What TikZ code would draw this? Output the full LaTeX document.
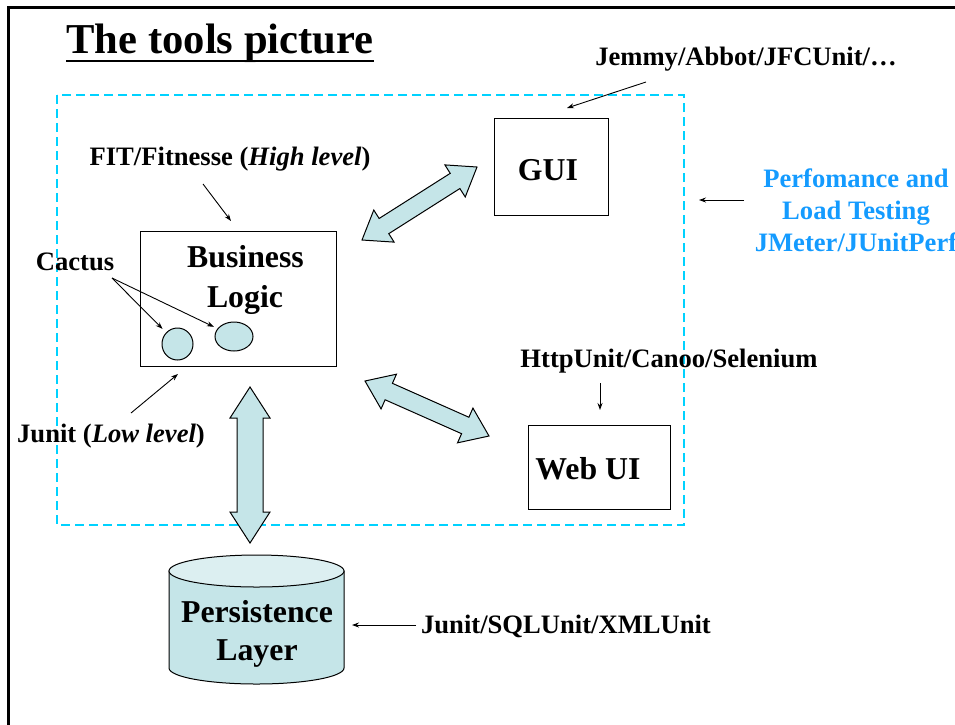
\documentclass[tikz,border=0pt]{standalone}
\usepackage{fontspec}
\setmainfont{Liberation Serif}
\usetikzlibrary{calc,arrows.meta,shapes.geometric}
\definecolor{dashcyan}{RGB}{0,210,255}
\definecolor{perfblue}{RGB}{20,155,255}
\definecolor{fillcyan}{RGB}{197,229,232}
\definecolor{topcyan}{RGB}{220,239,241}
\tikzset{
 lbl/.style={font=\fontsize{26.6}{32}\selectfont\bfseries, inner sep=0pt, anchor=base},
 big/.style={font=\fontsize{31.8}{38}\selectfont\bfseries, inner sep=0pt, anchor=base},
 box/.style={draw, line width=1pt, inner sep=0pt},
 ptr/.style={-{Stealth[length=7pt,width=5pt]}, line width=0.9pt},
 blk/.style={draw, line width=1pt, fill=fillcyan, line join=miter},
 blob/.style={draw, ellipse, line width=1pt, fill=fillcyan, inner sep=0pt},
}
\newcommand\dblarrow[5]{%
 \draw[blk] (#1) -- ($(#1)!#3!(#2)!#4!90:(#2)$) -- ($(#1)!#3!(#2)!#5!90:(#2)$)
  -- ($(#2)!#3!(#1)!#5!-90:(#1)$) -- ($(#2)!#3!(#1)!#4!-90:(#1)$) -- (#2)
  -- ($(#2)!#3!(#1)!#4!90:(#1)$) -- ($(#2)!#3!(#1)!#5!90:(#1)$)
  -- ($(#1)!#3!(#2)!#5!-90:(#2)$) -- ($(#1)!#3!(#2)!#4!-90:(#2)$) -- cycle;}
\begin{document}
\begin{tikzpicture}[x=1pt,y=-1pt]
\useasboundingbox (0,0) rectangle (955,724);
% frame
\draw[line width=3pt] (8,730) -- (8,7) -- (962,7);
% dashed region
\draw[draw=dashcyan, line width=1.5pt, dash pattern=on 9pt off 5pt] (57,95) rectangle (684,525);
% title
\node[lbl, font=\fontsize{42.6}{50}\selectfont\bfseries] (title) at (220,53) {The tools picture};
\draw[line width=2.5pt] (title.west |- 0,61) -- (title.east |- 0,61);
% boxes
\node[box, minimum width=196pt, minimum height=135pt] (blbox) at (238,298.5) {};
\node[big] (bl1) at (245.5,267) {Business};
\node[big] (bl2) at (245,307) {Logic};
\node[box, minimum width=114pt, minimum height=97pt] (gui) at (551,166.5) {};
\node[big] (guit) at (548,180) {GUI};
\node[box, minimum width=142pt, minimum height=84pt] (web) at (599,467) {};
\node[big] (webt) at (588,479) {Web UI};
% blobs
\node[blob, minimum width=31pt, minimum height=32pt] (c1) at (177.5,344) {};
\node[blob, minimum width=38pt, minimum height=29pt] (c2) at (234,336.5) {};
% cylinder
\draw[line width=1pt, fill=fillcyan] (169,571) -- (169,668) arc[start angle=180, end angle=360, x radius=87.5pt, y radius=16pt] -- (344,571) -- cycle;
\draw[line width=1pt, fill=topcyan] (256.5,571) ellipse [x radius=87.5pt, y radius=16pt];
\node[big] (pl1) at (257,622) {Persistence};
\node[big] (pl2) at (257,660) {Layer};
% labels
\node[lbl] (jemmy) at (746,65) {Jemmy/Abbot/JFCUnit/…};
\node[lbl] (fit) at (230,165) {FIT/Fitnesse (\textit{High level})};
\node[lbl] (cactus) at (75,270) {Cactus};
\node[lbl] (junit) at (111,442) {Junit (\textit{Low level})};
\node[lbl] (http) at (669,367) {HttpUnit/Canoo/Selenium};
\node[lbl] (sql) at (566,633) {Junit/SQLUnit/XMLUnit};
\node[lbl, text=perfblue] (perf1) at (856,187) {Perfomance and};
\node[lbl, text=perfblue] (perf2) at (856,219) {Load Testing};
\node[lbl, text=perfblue] (perf3) at (856,251) {JMeter/JUnitPerf};
% pointer coordinates
\coordinate (jemA) at (646,82);  \coordinate (jemB) at (567,108);
\coordinate (fitA) at (203,184); \coordinate (fitB) at (231,221);
\coordinate (jnA) at (131,413);  \coordinate (jnB) at (178,374);
\coordinate (htA) at (600,383);  \coordinate (htB) at (600,410);
\coordinate (pfA) at (744,200);  \coordinate (pfB) at (699,200);
\coordinate (sqA) at (416,625);  \coordinate (sqB) at (352,625);
\coordinate (caA) at (112,278);
\draw[ptr] (jemA) -- (jemB);
\draw[ptr] (fitA) -- (fitB);
\draw[ptr] (jnA) -- (jnB);
\draw[ptr] (htA) -- (htB);
\draw[ptr] (pfA) -- (pfB);
\draw[ptr] (sqA) -- (sqB);
\draw[ptr, shorten >=5pt] (caA) -- (c1);
\draw[ptr, shorten >=4pt] (caA) -- (c2);
% block double arrows
\coordinate (a1s) at (362,240); \coordinate (a1e) at (477,167);
\coordinate (a2s) at (365,381); \coordinate (a2e) at (489,436);
\coordinate (a3s) at (250,387); \coordinate (a3e) at (250,543);
\dblarrow{a1s}{a1e}{26pt}{19pt}{9pt}
\dblarrow{a2s}{a2e}{26pt}{19pt}{9pt}
\dblarrow{a3s}{a3e}{31pt}{20pt}{13pt}
\end{tikzpicture}
\end{document}
